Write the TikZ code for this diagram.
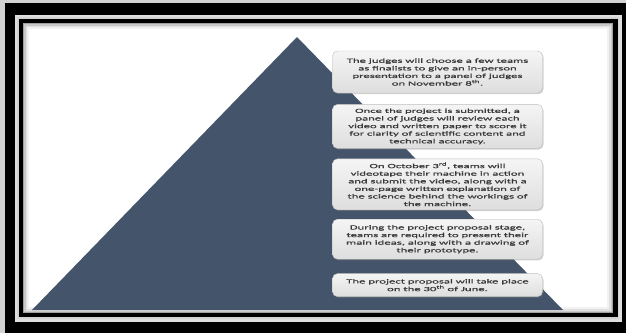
\documentclass[tikz,border=0pt]{standalone}
\usepackage{fontspec}
\newfontfamily\boxfont[FakeStretch=2.02,FakeBold=0.7]{Carlito}
\usetikzlibrary{positioning}
\usetikzlibrary{shadows}
\definecolor{pyramid}{HTML}{44546A}
\definecolor{boxtext}{HTML}{383838}
\tikzset{stage/.style={draw=gray!50,rounded corners=5pt,top color=gray!8,
bottom color=gray!26,minimum width=210pt,inner sep=2pt,align=center,
font=\boxfont\fontsize{6.3}{7.6}\selectfont,text=boxtext,
drop shadow={shadow xshift=1pt,shadow yshift=-1.2pt,opacity=0.35}}}

\begin{document}
\begin{tikzpicture}[x=1pt,y=1pt]
\useasboundingbox (0,0) rectangle (626,333);
% frame
\fill[gray!35] (0,0) rectangle (626,333);
\fill[black] (5,0) rectangle (626,330);
\fill[gray!25] (15,11) rectangle (622,318);
\fill[black] (19,16) rectangle (618,314);
\fill[white] (23,20) rectangle (613,310);
\foreach \w/\o in {12/0.05, 8/0.07, 5/0.1, 2/0.2}
  \draw[black, opacity=\o, line width=\w pt] (23,20) rectangle (613,310);

% pyramid
\coordinate (apex) at (297,296);
\coordinate (bl) at (32,23);
\coordinate (br) at (563,23);
\fill[pyramid] (apex) -- (br) -- (bl) -- cycle;

\node [stage, minimum height=42pt] (ta) at (437.5,261)
{The judges will choose a few teams\\as finalists to give an in-person\\
presentation to a panel of judges\\on November 8\textsuperscript{th}.};
\node [stage, minimum height=44pt, below=11pt of ta] (tb)
{Once the project is submitted, a\\panel of judges will review each\\
video and written paper to score it\\for clarity of scientific content and\\
technical accuracy.};
\node [stage, minimum height=51pt, below=10pt of tb] (tc)
{On October 3\textsuperscript{rd}, teams will\\videotape their machine in action\\
and submit the video, along with a\\one-page written explanation of\\
the science behind the workings of\\the machine.};
\node [stage, minimum height=40pt, below=9pt of tc] (td)
{During the project proposal stage,\\teams are required to present their\\
main ideas, along with a drawing of\\their prototype.};
\node [stage, minimum height=23pt, below=14pt of td] (te)
{The project proposal will take place\\on the 30\textsuperscript{th} of June.};
\end{tikzpicture}
\end{document}
